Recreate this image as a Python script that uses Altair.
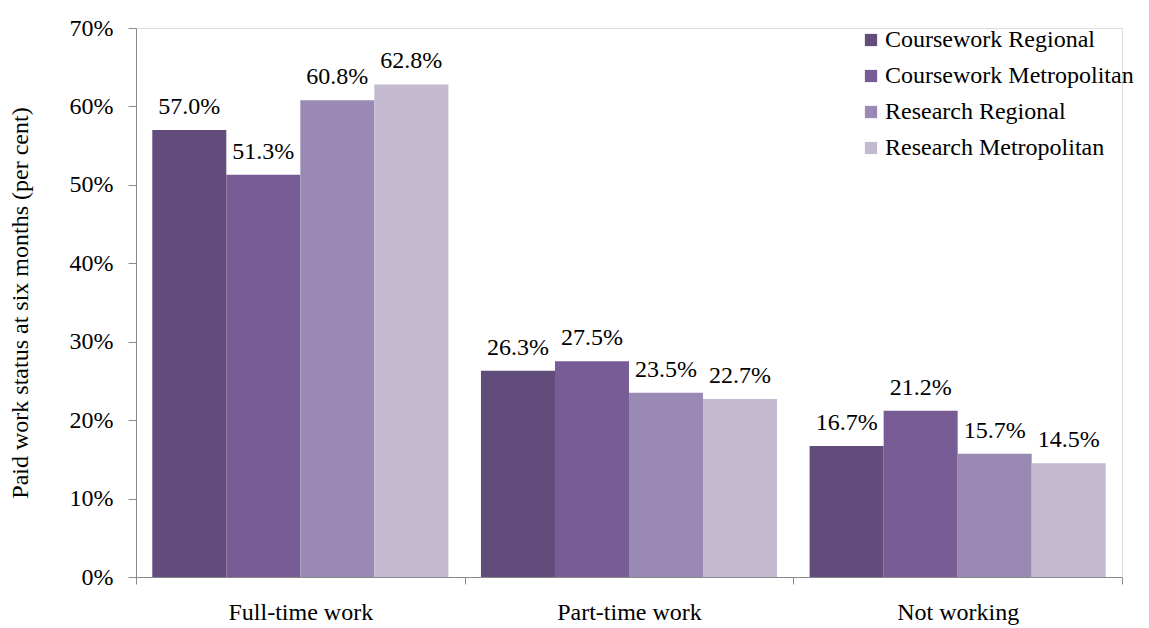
import altair as alt
import pandas as pd

categories = ["Full-time work", "Part-time work", "Not working"]
series = ["Coursework Regional", "Coursework Metropolitan", "Research Regional", "Research Metropolitan"]
values = {
    "Coursework Regional": [57.0, 26.3, 16.7],
    "Coursework Metropolitan": [51.3, 27.5, 21.2],
    "Research Regional": [60.8, 23.5, 15.7],
    "Research Metropolitan": [62.8, 22.7, 14.5],
}
colors = ["#624C7C", "#775C96", "#9A89B3", "#C3B9D1"]
y_ticks = [0, 0.1, 0.2, 0.3, 0.4, 0.5, 0.6, 0.7]

rows = []
for s in series:
    for c, v in zip(categories, values[s]):
        rows.append({"category": c, "series": s, "value": v / 100.0,
                     "label": f"{v:.1f}%"})
df = pd.DataFrame(rows)

FONT = "'Times New Roman', 'Liberation Serif', serif"
FS = 24

base = alt.Chart(df).encode(
    x=alt.X("category:N", sort=categories,
            scale=alt.Scale(paddingInner=0, paddingOuter=0),
            axis=alt.Axis(title=None, labelAngle=0, tickBand="extent",
                          labelFontSize=FS, labelFont=FONT, labelColor="#000000",
                          domainColor="#888888", tickColor="#888888",
                          tickSize=7, labelPadding=16)),
    xOffset=alt.XOffset("series:N", sort=series,
                        scale=alt.Scale(paddingInner=0, paddingOuter=0.22)),
)

bars = base.mark_bar().encode(
    y=alt.Y("value:Q", scale=alt.Scale(domain=[0, 0.7], nice=False),
            axis=alt.Axis(format=".0%", values=y_ticks, grid=False,
                          title="Paid work status at six months (per cent)",
                          titleFont=FONT, titleFontSize=FS, titleFontWeight="normal",
                          titleColor="#000000", titlePadding=37,
                          labelFont=FONT, labelFontSize=FS, labelColor="#000000",
                          labelPadding=15, tickSize=8,
                          domainColor="#888888", tickColor="#888888")),
    color=alt.Color("series:N", sort=series,
                    scale=alt.Scale(domain=series, range=colors),
                    legend=alt.Legend(title=None, orient="none", legendX=723, legendY=0,
                                      symbolType="square", symbolSize=150,
                                      symbolStrokeWidth=0, labelOffset=2,
                                      labelFont=FONT, labelFontSize=FS,
                                      labelColor="#000000", rowPadding=12,
                                      labelLimit=400)),
)

text = base.mark_text(baseline="alphabetic", dy=-16, font=FONT, fontSize=FS,
                      color="#000000").encode(
    y=alt.Y("value:Q"),
    text="label:N",
)

chart = alt.layer(bars, text).properties(
    width=986, height=549,
    autosize=alt.AutoSizeParams(type="none"),
    padding={"left": 128, "top": 20, "right": 19, "bottom": 51},
).configure_view(stroke=None).configure(background="white", font=FONT)

chart.save("out.html", embed_options={"renderer": "svg", "actions": False})
